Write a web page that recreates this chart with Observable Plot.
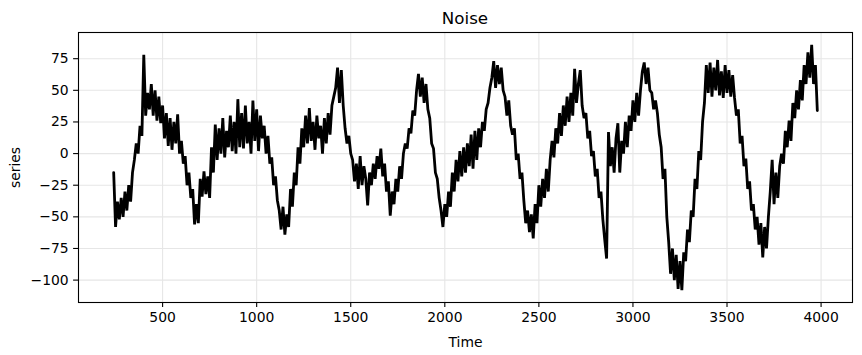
<!DOCTYPE html>
<html>
<head>
<meta charset="utf-8">
<script src="https://cdn.jsdelivr.net/npm/d3@7"></script>
<script src="https://cdn.jsdelivr.net/npm/@observablehq/plot@0.6"></script>
<style>
  body { margin: 0; background: #fff; font-family: "DejaVu Sans", sans-serif; }
  #wrap { position: relative; width: 862px; height: 355px; }
  #title { position: absolute; left: 78px; width: 774px; top: 10px; text-align: center;
           font-size: 16.7px; line-height: 16.7px; color: #000; }
</style>
</head>
<body>
<div id="wrap"><div id="title">Noise</div></div>
<script>
// Time axis: first sample and spacing
const timeStart = 240;
const timeStep = 10;
// series values, one per time step
const series = [
  -15, -58, -38, -52, -35, -50,
  -30, -45, -25, -38, -15, -5, 8, 0, 22, 14,
  78, 30, 48, 35, 55, 30, 50, 26, 45, 24,
  38, 12, 32, 6, 28, 3, 25, 8, 31, 0,
  10, -8, -2, -25, -15, -35, -28, -56, -40, -55,
  -20, -34, -14, -32, -18, -35, 5, -15, 23, -5,
  20, 0, 28, -3, 18, 5, 30, 2, 25, 0,
  43, 5, 32, 4, 38, 8, 25, 0, 42, 10,
  35, 2, 30, 12, 22, 0, 14, -8, -3, -25,
  -18, -37, -45, -60, -42, -64, -48, -58, -28, -42,
  -15, -25, 5, -8, 20, 5, 30, 8, 36, 10,
  25, 3, 30, 12, 22, 0, 28, 8, 32, 15,
  38, 45, 52, 68, 40, 66, 38, 20, 8, 14,
  0, -5, -22, -8, -28, -2, -25, -10, -20, -41,
  -15, -25, -8, -20, -2, -12, 4, -18, -8, -30,
  -22, -49, -30, -40, -20, -30, -10, -20, 0, 8,
  4, 20, 16, 34, 30, 50, 63, 45, 60, 40,
  55, 35, 28, 8, 4, -15, -20, -35, -45, -58,
  -40, -50, -30, -42, -15, -30, -5, -22, 2, -18,
  5, -15, 8, -10, 15, -12, 18, -5, 20, 5,
  25, 18, 35, 40, 52, 60, 73, 52, 70, 55,
  68, 50, 45, 30, 42, 22, 15, 20, -5, 0,
  -20, -15, -37, -55, -45, -62, -48, -67, -40, -55,
  -25, -42, -20, -35, -12, -30, -5, 10, -3, 20,
  8, 32, 14, 38, 22, 45, 25, 48, 30, 67,
  40, 55, 66, 38, 28, 32, 12, 18, -2, 2,
  -18, -12, -35, -30, -52, -68, -83, 17, -10, 5,
  -15, 12, 24, -15, 10, 0, 25, 5, 30, 18,
  42, 25, 48, 30, 50, 65, 72, 55, 68, 50,
  48, 35, 42, 32, 15, 5, -20, -12, -50, -70,
  -95, -75, -100, -80, -107, -85, -108, -78, -85, -60,
  -70, -45, -50, -20, -28, 2, -5, 25, 40, 70,
  48, 72, 45, 68, 50, 74, 46, 65, 44, 70,
  48, 66, 45, 62, 44, 30, 35, 8, 14, -10,
  -4, -28, -22, -45, -40, -60, -50, -72, -55, -82,
  -58, -75, -50, -30, -5, -40, -15, -35, -10, 0,
  -8, 18, 5, 26, 10, 40, 28, 50, 35, 58,
  42, 70, 55, 80, 60, 86, 55, 70, 34
];
const xTicks = [500, 1000, 1500, 2000, 2500, 3000, 3500, 4000];
const yTicks = [-100, -75, -50, -25, 0, 25, 50, 75];

const data = series.map((v, i) => ({time: timeStart + i * timeStep, value: v}));
const fmt = d3.format("d");

const chart = Plot.plot({
  width: 862,
  height: 355,
  marginLeft: 78,
  marginRight: 10,
  marginTop: 32,
  marginBottom: 53,
  style: {fontFamily: "DejaVu Sans, sans-serif", fontSize: "13.9px", color: "#000", background: "transparent", overflow: "visible"},
  x: {domain: [53, 4167]},
  y: {domain: [-117.7, 95.7]},
  marks: [
    Plot.gridX(xTicks, {stroke: "#e6e6e6", strokeOpacity: 1, strokeWidth: 1.1}),
    Plot.gridY(yTicks, {stroke: "#e6e6e6", strokeOpacity: 1, strokeWidth: 1.1}),
    Plot.line(data, {x: "time", y: "value", stroke: "#000", strokeWidth: 2.8, strokeLinejoin: "miter", strokeMiterlimit: 2}),
    Plot.frame({stroke: "#000", strokeWidth: 1.1}),
    Plot.axisX(xTicks, {tickSize: 4.9, tickPadding: 4.9, tickFormat: fmt, strokeWidth: 1.1,
      label: "Time", labelAnchor: "center", labelArrow: "none", labelOffset: 44}),
    Plot.axisY(yTicks, {tickSize: 4.9, tickPadding: 4.9, tickFormat: fmt, strokeWidth: 1.1,
      label: "series", labelAnchor: "center", labelArrow: "none", labelOffset: 68})
  ]
});
document.getElementById("wrap").prepend(chart);
</script>
</body>
</html>
